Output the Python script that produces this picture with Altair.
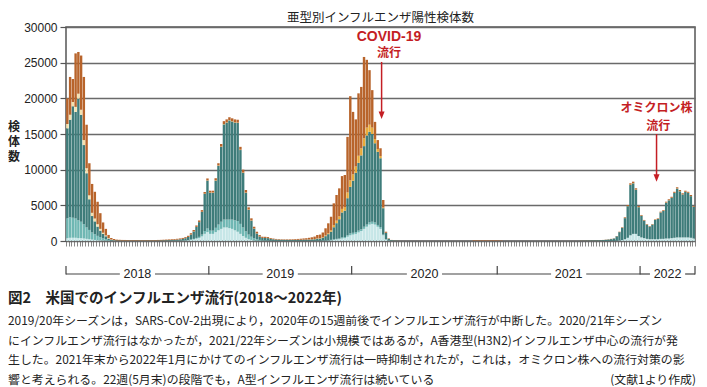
import altair as alt
import pandas as pd

# ---------------- data ----------------
YEARS = [2018, 2019, 2020, 2021, 2022]
WEEKS_IN_YEAR = [52, 52, 53, 52, 20]

SERIES = ["A(H1N1)pdm09", "A(H3N2)", "A(亜型未検査)", "B(山形系統)", "B(ビクトリア系統)", "B(系統未検査)"]
COLORS = ["#c6e6e7", "#6fb7b3", "#3e7c7a", "#f4e2ae", "#e8ab3a", "#b8642b"]

# weekly positive specimens, keyed by (year, first week of the block)
h1n1 = {
    (2018, 1): [400, 450, 450, 450, 400, 400, 350, 300, 250, 200, 150, 120, 100, 80, 60, 40, 20, 10,
                10, 10, 10, 10, 10, 10, 10, 10, 10, 10, 10, 10, 10, 10, 10, 10,
                15, 15, 20, 20, 25, 30, 35, 40, 50, 70, 100, 150, 220, 320, 430, 650, 1000, 1250],
    (2019, 1): [1000, 1000, 1250, 1500, 1700, 1900, 1900, 1800, 1700, 1500, 1300, 1000, 700, 450, 250, 150,
                80, 50, 30, 20, 20, 20, 15,
                10, 10, 10, 10, 10, 10, 10, 10, 10, 10, 10, 10, 10, 10, 10, 10,
                20, 20, 30, 40, 60, 100, 150, 200, 250, 350, 400, 600, 800],
    (2020, 1): [900, 1000, 1200, 1400, 1700, 2000, 2300, 2400, 2300, 2000, 1700, 800, 200, 60, 20, 10, 5],
    (2021, 38): [5, 10, 10, 15, 15, 20, 40, 80, 130, 250, 450, 800, 1000, 1000, 700],
    (2022, 1): [500, 400, 300, 250, 250, 250, 250, 300, 300, 350, 350, 400, 450, 500, 500, 500, 500, 500, 450, 350],
}
h3n2 = {
    (2018, 1): [2800, 2900, 2800, 2700, 2500, 2300, 2000, 1600, 1300, 1000, 800, 600, 450, 300, 200, 100, 50, 30,
                20, 20, 15, 15, 15, 15, 15, 15, 15, 15,
                20, 20, 20, 20, 20, 20, 20, 20, 20, 20, 20, 20, 20, 20,
                25, 30, 40, 60, 80, 110, 150, 250, 400, 500],
    (2019, 1): [450, 450, 600, 800, 1000, 1100, 1100, 1200, 1300, 1400, 1500, 1400, 1200, 900, 650, 450, 300,
                200, 120, 80, 70, 60, 40, 30, 25,
                20, 20, 20, 20, 20, 20, 20, 20, 20, 20, 20, 20, 20, 20, 20, 20,
                30, 40, 50, 60, 80, 100, 100, 150, 150, 200, 250],
    (2020, 1): [250, 250, 250, 250, 300, 300, 300, 300, 300, 250, 250, 100, 30, 10, 5, 5, 5],
}
a_unsub = {
    (2018, 1): [12600, 13650, 15650, 14950, 17050, 15000, 11100, 7600, 4300, 2300, 1800, 1300, 900, 600, 400,
                200, 100, 60,
                50, 40, 35, 35, 30, 30, 30, 30, 30, 30,
                30, 35, 35, 40, 40, 45, 50, 60, 70, 80,
                90, 110, 135, 170, 215, 290, 430, 690, 1030, 1530,
                2070, 3180, 5200, 6720],
    (2019, 1): [5300, 5300, 6600, 8250, 10500, 13350, 13600, 13900, 13750, 13700, 13750, 10350, 7650, 5400,
                3470, 2250, 1350, 800, 480, 330, 340, 320,
                235, 200, 165, 150, 140, 130, 130, 120, 120, 120, 130, 140, 150, 160, 170, 190, 220,
                290, 300, 400, 600, 850, 1150, 1700, 2200, 2700, 3500, 3700, 5200, 6550],
    (2020, 1): [7300, 8300, 9500, 10350, 11300, 12500, 12700, 12300, 11100, 10250, 9650, 3700, 900, 250, 100, 55, 35],
    (2021, 31): [30, 40, 50, 60, 70, 80, 90, 100, 120, 160, 200, 250,
                 330, 620, 1160, 1710, 2950, 4430, 7050, 7080, 6170, 4040],
    (2022, 1): [3020, 2450, 1990, 1770, 2050, 2700, 2840, 3700, 3930, 5020, 5350, 5640, 6280, 6840, 6460,
                6020, 6380, 6240, 5840, 4430],
}
b_yam = {
    (2018, 1): [600, 700, 600, 700, 700, 700, 700, 700, 550, 450, 400, 330, 250, 180, 120, 70, 40, 30],
}
b_vic = {
    (2018, 46): [10, 10, 20, 20, 20, 30, 30],
    (2019, 1): [50, 50, 50, 50, 50, 50, 50, 50, 50, 50, 50, 50, 50, 50, 50, 30, 20, 20],
    (2019, 37): [20, 20, 30, 40, 50, 60, 100, 120, 190, 300, 350, 400, 500, 500, 800, 900],
    (2020, 1): [900, 900, 1000, 1000, 1100, 1100, 1000, 900, 600, 400, 300, 100, 20, 10, 5, 5, 5],
    (2021, 48): [20, 40, 40, 40, 30],
    (2022, 1): [30, 20, 20, 20, 20, 20, 20, 20, 20, 20, 20, 20, 20, 30, 30, 20, 20, 20, 20, 20],
}
b_unk = {
    (2018, 1): [3600, 5300, 3200, 7500, 5850, 7600, 8850, 6100, 4500, 4050, 3750, 3150, 2200, 1440, 920,
                440, 210, 150,
                110, 100, 90, 85, 80, 70, 70, 70, 65, 65,
                60, 65, 65, 70, 70, 75, 75, 85, 90, 100,
                105, 110, 120, 130, 140, 150, 160, 180, 200, 200,
                210, 230, 240, 270],
    (2019, 1): [250, 250, 300, 300, 350, 400, 400, 400, 400, 400,
                400, 400, 400, 350, 300, 300, 250, 230, 200, 170,
                160, 150, 120, 100, 90, 80, 70, 70, 70, 80,
                90, 110, 130, 150, 180, 200, 230, 280, 340, 470,
                510, 680, 1000, 1400, 1900, 3050, 3600, 3930, 4600, 4500,
                7800, 11800],
    (2020, 1): [8750, 6600, 8750, 8600, 11400, 9500, 7650, 5250, 2400, 1250, 1100, 1050, 150, 50, 20, 15, 10],
    (2020, 45): [70, 70, 70, 70, 70, 70, 70, 70, 70],
    (2021, 1): [60, 40],
    (2021, 31): [20, 20, 20, 20, 20, 20, 20, 15, 20, 30, 35, 35,
                 30, 40, 60, 80, 120, 150, 200, 200, 180, 130],
    (2022, 1): [100, 80, 70, 60, 60, 70, 70, 90, 100, 120, 130, 140, 150, 160, 160, 150, 150, 140, 140, 100],
}

Y_TICKS = [0, 5000, 10000, 15000, 20000, 25000, 30000]

TITLE = "亜型別インフルエンザ陽性検体数"
Y_TITLE = ["検", "体", "数"]

ANN_COVID = ["COVID-19", "流行"]
ANN_OMI = ["オミクロン株", "流行"]
ANN_TEXT_X = [117.6, 117.6, 215.0, 215.6]
ANN_TEXT_Y = [28560, 26310, 18650, 16150]
ARROW_X = [114.9, 215.0]
ARROW_TOP = [25100, 15000]
ARROW_TIP = [17100, 8300]

CAPTION_HEAD = "図2　米国でのインフルエンザ流行(2018〜2022年)"
CAPTION_LINES = [
    "2019/20年シーズンは，SARS-CoV-2出現により，2020年の15週前後でインフルエンザ流行が中断した。2020/21年シーズン",
    "にインフルエンザ流行はなかったが，2021/22年シーズンは小規模ではあるが，A香港型(H3N2)インフルエンザ中心の流行が発",
    "生した。2021年末から2022年1月にかけてのインフルエンザ流行は一時抑制されたが，これは，オミクロン株への流行対策の影",
    "響と考えられる。22週(5月末)の段階でも，A型インフルエンザ流行は続いている",
]
CAPTION_SOURCE = "(文献1より作成)"

# ---------------- build tables ----------------
offsets = {}
acc = 0
for yr, n in zip(YEARS, WEEKS_IN_YEAR):
    offsets[yr] = acc
    acc += n
N_WEEKS = acc

base = [0] * N_WEEKS
rows = []
for name, blocks in zip(SERIES, [h1n1, h3n2, a_unsub, b_yam, b_vic, b_unk]):
    for (yr, wk), vals in blocks.items():
        for k, v in enumerate(vals):
            i = offsets[yr] + wk - 1 + k
            if v <= 0:
                continue
            rows.append({"series": name, "x0": i + 0.06, "x1": i + 0.94,
                         "y0": base[i], "y1": base[i] + v})
            base[i] += v
bars_df = pd.DataFrame(rows)

GAP = 6.4  # half-gap (in weeks) left around each year label
seg_rows, tick_rows, lab_rows = [], [], []
for yr, n in zip(YEARS, WEEKS_IN_YEAR):
    s, e = offsets[yr], offsets[yr] + n
    m = (s + e) / 2
    seg_rows.append({"a": s, "b": m - GAP})
    seg_rows.append({"a": m + GAP, "b": e})
    tick_rows.append({"b": s})
    lab_rows.append({"mid": m, "label": str(yr)})
tick_rows.append({"b": N_WEEKS})
seg_df = pd.DataFrame(seg_rows)
tick_df = pd.DataFrame(tick_rows)
lab_df = pd.DataFrame(lab_rows)

W, H = 629, 214
PX = 30000 / H
HEAD = 7.5  # arrow head height, px
arrow_df = pd.DataFrame({
    "x": ARROW_X,
    "top": ARROW_TOP,
    "base": [t + HEAD * PX * 0.6 for t in ARROW_TIP],
    "hc": [t + HEAD / 2 * PX for t in ARROW_TIP],
})
ann_df = pd.DataFrame({
    "t": ANN_COVID + ANN_OMI,
    "x": ANN_TEXT_X,
    "y": ANN_TEXT_Y,
    "latin": [True, False, False, False],
})

# ---------------- chart ----------------
RED = "#c41e24"
INK = "#222222"
JP = "Noto Sans CJK JP"
LAT = "Liberation Sans"

xscale = alt.Scale(domain=[0, N_WEEKS], nice=False, zero=False)
yscale = alt.Scale(domain=[0, 30000], nice=False, zero=True)
xaxis = alt.Axis(values=list(range(N_WEEKS + 1)), labels=False, title=None, grid=False,
                 domain=False, ticks=True, tickSize=5, tickColor="#555555", tickWidth=0.7)
yaxis = alt.Axis(values=Y_TICKS, format="d", title=None, grid=True, gridColor="#6a6a6a",
                 gridWidth=1.5, domain=False, tickColor="#555555", tickSize=6, tickWidth=1.2,
                 labelFont=LAT, labelFontSize=12, labelColor=INK, labelPadding=3)


def X(f):
    return alt.X(f, type="quantitative", scale=xscale, axis=xaxis)


def Y(f):
    return alt.Y(f, type="quantitative", scale=yscale, axis=yaxis)


bars = alt.Chart(bars_df).mark_rect().encode(
    x=X("x0"), x2="x1", y=Y("y0"), y2="y1",
    color=alt.Color("series:N", scale=alt.Scale(domain=SERIES, range=COLORS), legend=None),
)

BR_Y = H + 33
segs = alt.Chart(seg_df).mark_rule(color="#444444", strokeWidth=1.2).encode(
    x=X("a"), x2="b", y=alt.value(BR_Y))
yticks = alt.Chart(tick_df).mark_rule(color="#444444", strokeWidth=1.2).encode(
    x=X("b"), y=alt.value(BR_Y - 8), y2=alt.value(BR_Y + 0.6))
ylabels = alt.Chart(lab_df).mark_text(font=LAT, fontSize=12.5, color=INK, baseline="middle").encode(
    x=X("mid"), y=alt.value(BR_Y), text="label:N")

arrow_line = alt.Chart(arrow_df).mark_rule(color=RED, strokeWidth=1.5).encode(
    x=X("x"), y=Y("top"), y2="base")
arrow_head = alt.Chart(arrow_df).mark_point(
    shape="M-0.8,-1L0.8,-1L0,1Z", filled=True, size=HEAD * HEAD, color=RED, opacity=1, strokeWidth=0
).encode(x=X("x"), y=Y("hc"))

ann_lat = alt.Chart(ann_df[ann_df["latin"]]).mark_text(
    font=LAT, fontWeight="bold", fontSize=14, color=RED, baseline="middle").encode(
    x=X("x"), y=Y("y"), text="t:N")
ann_jp = alt.Chart(ann_df[~ann_df["latin"]]).mark_text(
    font=JP, fontWeight="bold", fontSize=12, color=RED, baseline="middle").encode(
    x=X("x"), y=Y("y"), text="t:N")

title = alt.Chart().mark_text(text=TITLE, font=JP, fontSize=12.5, color=INK, baseline="middle").encode(
    x=alt.value(W / 2), y=alt.value(-9))
ytitle = alt.Chart().mark_text(text=Y_TITLE, font=JP, fontSize=12, fontWeight="bold", color=INK,
                               baseline="top", lineHeight=15).encode(
    x=alt.value(-52), y=alt.value(95))

CAP_Y0 = 294
CAP_DY = 19.5
cap_layers = [
    alt.Chart().mark_text(text=CAPTION_HEAD, font=JP, fontSize=14.5, fontWeight="bold", color=INK,
                          align="left", baseline="middle").encode(x=alt.value(-58), y=alt.value(272))
]
for j, line in enumerate(CAPTION_LINES):
    cap_layers.append(
        alt.Chart().mark_text(text=line, font=JP, fontSize=11.9, color=INK, align="left",
                              baseline="middle").encode(x=alt.value(-58), y=alt.value(CAP_Y0 + j * CAP_DY)))
cap_layers.append(
    alt.Chart().mark_text(text=CAPTION_SOURCE, font=JP, fontSize=11.9, color=INK, align="right",
                          baseline="middle").encode(x=alt.value(W + 1), y=alt.value(CAP_Y0 + 3 * CAP_DY)))

chart = alt.layer(
    bars, segs, yticks, ylabels, arrow_line, arrow_head, ann_lat, ann_jp, title, ytitle, *cap_layers
).properties(
    width=W, height=H,
    padding={"left": 58, "top": 19, "right": 4, "bottom": 146},
    autosize=alt.AutoSizeParams(type="none"),
    background="white",
).configure_view(stroke="#555555", strokeWidth=1.5)

chart.save("out.html", embed_options={"renderer": "svg", "actions": False})
